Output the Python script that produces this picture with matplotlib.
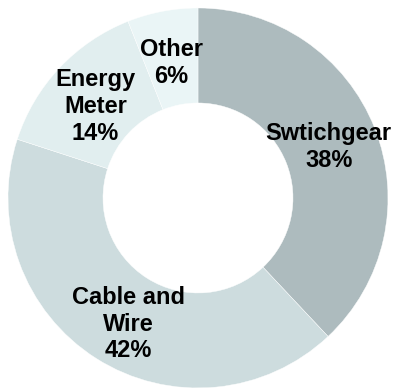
import matplotlib
matplotlib.use("Agg")
import matplotlib.pyplot as plt

categories = ["Swtichgear", "Cable and\nWire", "Energy\nMeter", "Other"]
shares = [38, 42, 14, 6]
colors = ["#adbbbe", "#cddcde", "#e1eeef", "#eaf5f6"]

plt.rcParams["font.family"] = ["Liberation Sans", "DejaVu Sans"]

fig = plt.figure(figsize=(4.03, 3.91), dpi=100)
ax = fig.add_axes([0, 0, 1, 1])

labels = [f"{c}\n{v}%" for c, v in zip(categories, shares)]
wedges, texts = ax.pie(
    shares,
    labels=labels,
    colors=colors,
    startangle=90,
    counterclock=False,
    labeldistance=0.74,
    wedgeprops=dict(width=0.5, edgecolor="white", linewidth=0.3),
)
# small nudges so labels sit where the original placed them
nudges = [(0.0, -0.005), (0.03, -0.04), (0.0, -0.025), (0.0, -0.015)]
for t, (dx, dy) in zip(texts, nudges):
    x, y = t.get_position()
    t.set_position((x + dx, y + dy))
    t.set_ha("center")
    t.set_va("center")
    t.set_fontsize(17)
    t.set_fontweight("bold")
    t.set_linespacing(1.2)

ax.set_aspect("auto")
ax.set_xlim(-1.042, 1.079)
ax.set_ylim(-1.016, 1.042)
ax.axis("off")

fig.savefig("out.png", dpi=100)
